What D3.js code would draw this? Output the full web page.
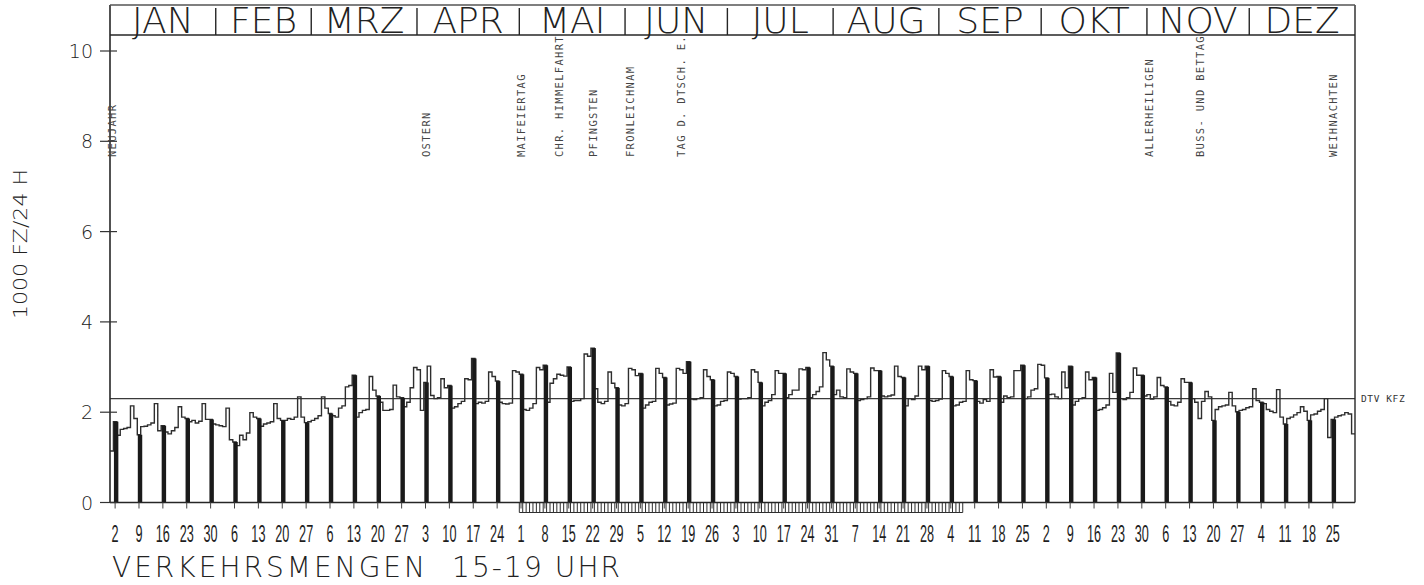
<!DOCTYPE html>
<html><head><meta charset="utf-8">
<script src="https://cdn.jsdelivr.net/npm/d3@7"></script>
<style>
html,body{margin:0;padding:0;background:#fff;}
svg{display:block;}
</style></head>
<body>
<svg id="chart" width="1424" height="585"></svg>
<script>
// ---- DATA (1983, daily values 15-19 h, 1000 vehicles) ----
const year = 1983;
const jan = [1.14,1.79, 1.49,1.62,1.64,1.66,2.14,1.86,1.50, 1.68,1.69,1.72,1.76,2.19,1.59,1.70, 1.56,1.52,1.59,1.66,2.12,1.89,1.86, 1.79,1.82,1.76,1.80,2.19,1.84,1.84, 1.74];
const feb = [1.72,1.70,1.68,2.09,1.39,1.34, 1.26,1.49,1.39,1.54,1.99,1.89,1.86, 1.69,1.74,1.76,1.79,2.19,1.86,1.82, 1.82,1.86,1.84,1.89,2.34,1.89,1.77, 1.79];
const mrz = [1.82,1.86,1.92,2.34,2.09,1.97, 1.92,1.89,2.09,2.14,2.56,2.59,2.82, 1.89,1.99,2.04,2.06,2.79,2.49,2.36, 2.22,2.04,2.04,2.06,2.60,2.34,2.32, 2.12,2.22,2.54,2.99];
const apr = [2.94,2.04,2.66, 3.02,2.37,2.30,2.32,2.74,2.54,2.59, 2.09,2.12,2.19,2.24,2.74,2.72,3.19, 2.19,2.22,2.20,2.24,2.89,2.79,2.69, 2.22,2.19,2.18,2.20,2.92,2.89];
const mai = [2.84, 2.06,2.04,2.09,2.19,2.99,2.94,3.04, 2.22,2.64,2.74,2.84,2.82,2.80,3.00, 2.24,2.26,2.26,2.30,3.29,3.24,3.42, 2.52,2.22,2.19,2.24,2.89,2.64,2.54, 2.16,2.14];
const jun = [2.19,2.97,2.94,2.81,2.86, 2.09,2.16,2.22,2.24,2.97,2.86,2.77, 2.16,2.18,2.20,2.97,2.94,2.86,3.12, 2.29,2.28,2.30,2.32,2.94,2.79,2.72, 2.14,2.16,2.24,2.26];
const jul = [2.89,2.86,2.79, 2.29,2.30,2.30,2.32,2.94,2.89,2.66, 2.14,2.22,2.26,2.39,2.92,2.86,2.86, 2.32,2.39,2.49,2.49,2.96,2.94,2.99, 2.32,2.39,2.46,2.56,3.32,3.16,3.02];
const aug = [2.39,2.49,2.34,2.32,2.96,2.89,2.86, 2.26,2.28,2.30,2.34,2.98,2.92,2.92, 2.36,2.34,2.36,2.38,3.02,2.79,2.77, 2.14,2.30,2.28,2.36,3.02,2.94,3.02, 2.26,2.24,2.26];
const sep = [2.29,2.92,2.86,2.79, 2.14,2.16,2.22,2.24,2.92,2.72,2.70, 2.24,2.20,2.28,2.24,2.94,2.78,2.79, 2.22,2.36,2.32,2.34,2.92,2.92,3.04, 2.30,2.34,2.49,2.52,3.06];
const okt = [3.04,2.76, 2.39,2.40,2.34,2.30,2.89,2.54,3.02, 2.16,2.24,2.30,2.32,2.89,2.72,2.77, 2.04,2.06,2.10,2.16,2.86,2.44,3.31, 2.30,2.28,2.32,2.44,2.98,2.82,2.82, 2.36];
const nov = [2.39,2.29,2.34,2.77,2.59,2.56, 2.24,2.16,2.14,2.22,2.74,2.66,2.66, 2.30,2.22,1.86,2.24,2.46,2.34,1.82, 2.06,2.12,2.14,2.16,2.44,2.14,2.01, 2.04,2.06,2.10];
const dez = [2.12,2.52,2.26,2.22, 2.19,2.06,2.02,1.99,2.50,1.89,1.74, 1.86,1.89,1.94,1.99,2.12,2.02,1.82, 1.94,1.96,2.02,2.06,2.30,1.44,1.84, 1.89,1.92,1.94,1.99,1.96,1.52];

const monthNames = ["JAN","FEB","MRZ","APR","MAI","JUN","JUL","AUG","SEP","OKT","NOV","DEZ"];
const yTicks = [0,2,4,6,8,10];
const dtvValue = 2.30;
const dtvLabel = "DTV KFZ";
const holidayNames = ["NEUJAHR","OSTERN","MAIFEIERTAG","CHR. HIMMELFAHRT","PFINGSTEN","FRONLEICHNAM","TAG D. DTSCH. E.","ALLERHEILIGEN","BUSS- UND BETTAG","WEIHNACHTEN"];
const holidayDates = ["1983-01-01","1983-04-03","1983-05-01","1983-05-12","1983-05-22","1983-06-02","1983-06-17","1983-11-01","1983-11-16","1983-12-25"];
const hatchStart = "1983-05-01", hatchEnd = "1983-09-08";
const yLabel = "1000 FZ/24 H";
const titleLeft = "VERKEHRSMENGEN";
const titleRight = "15-19 UHR";

// ---- BUILD ----
const values = [].concat(jan,feb,mrz,apr,mai,jun,jul,aug,sep,okt,nov,dez);
const start = new Date(year,0,1), end = new Date(year+1,0,1);
const days = d3.timeDay.range(start, end);
const data = days.map((d,i)=>({i, date:d, v:values[i]}));
const parse = d3.timeParse("%Y-%m-%d");
const dayIndex = d => d3.timeDay.count(start, d);

const L = 110, R = 1355, HT = 5, HB = 35;
const x = d3.scaleLinear().domain([0, days.length]).range([L, R]);
const y = d3.scaleLinear().domain([0, 10]).range([502.5, 51]);

const svg = d3.select("#chart");
const ink = "#262626";

// hatched band below the axis
const h0 = dayIndex(parse(hatchStart)), h1 = dayIndex(parse(hatchEnd));
const hg = svg.append("g").attr("stroke", "#2e2e2e").attr("stroke-width", 1);
hg.selectAll("line").data(d3.range(h0, h1 + 1)).join("line")
  .attr("x1", d => x(d)).attr("x2", d => x(d))
  .attr("y1", y(0)).attr("y2", y(0) + 10);
hg.append("line").attr("x1", x(h0)).attr("x2", x(h1)).attr("y1", y(0)+10).attr("y2", y(0)+10);

// DTV line
svg.append("line").attr("x1", L).attr("x2", R)
  .attr("y1", y(dtvValue)).attr("y2", y(dtvValue))
  .attr("stroke", "#3a3a3a").attr("stroke-width", 1.4);
svg.append("text").attr("x", R + 6).attr("y", y(dtvValue) + 3)
  .attr("font-family", "DejaVu Sans Mono").attr("font-size", 9.5)
  .attr("letter-spacing", 0.6).attr("fill", "#333").text(dtvLabel);

// step line over all days
const pts = data.concat([{i: days.length, v: values[values.length-1]}]);
svg.append("path").datum(pts)
  .attr("d", d3.line().x(d => x(d.i)).y(d => y(d.v)).curve(d3.curveStepAfter))
  .attr("fill", "none").attr("stroke", "#2e2e2e").attr("stroke-width", 1.4);

// Sunday bars
const sundays = data.filter(d => d.date.getDay() === 0);
svg.append("g").selectAll("rect").data(sundays).join("rect")
  .attr("x", d => x(d.i + 0.15)).attr("width", d => x(d.i + 1.45) - x(d.i + 0.15))
  .attr("y", d => y(d.v)).attr("height", d => y(0) - y(d.v))
  .attr("fill", "#1a1a1a");

// frame: axes
svg.append("line").attr("x1", L).attr("x2", R).attr("y1", y(0)).attr("y2", y(0)).attr("stroke", ink).attr("stroke-width", 1.6);
svg.append("line").attr("x1", L).attr("x2", L).attr("y1", HT).attr("y2", y(0)).attr("stroke", ink).attr("stroke-width", 1.6);
svg.append("line").attr("x1", R).attr("x2", R).attr("y1", HT).attr("y2", y(0)).attr("stroke", ink).attr("stroke-width", 1.4);

// x ticks and labels at Sundays
svg.append("g").selectAll("line").data(sundays).join("line")
  .attr("x1", d => x(d.i + 0.5)).attr("x2", d => x(d.i + 0.5))
  .attr("y1", y(0)).attr("y2", y(0) + 6).attr("stroke", "#444").attr("stroke-width", 1);
svg.append("g").selectAll("text").data(sundays).join("text")
  .attr("transform", d => `translate(${x(d.i + 0.5)},542) scale(0.55,1)`)
  .attr("text-anchor", "middle").attr("font-family", "Liberation Sans, Arial, sans-serif")
  .attr("font-size", 23).attr("fill", "#1e1e1e")
  .text(d => d.date.getDate());

// y axis ticks and labels
svg.append("g").selectAll("line").data(yTicks).join("line")
  .attr("x1", 100).attr("x2", L + 7).attr("y1", d => y(d)).attr("y2", d => y(d))
  .attr("stroke", "#333").attr("stroke-width", 1.2);
svg.append("g").selectAll("text").data(yTicks).join("text")
  .attr("x", 93).attr("y", d => y(d) + 7).attr("text-anchor", "end")
  .attr("font-family", "DejaVu Sans").attr("font-weight", 200)
  .attr("font-size", 19).attr("fill", "#222").text(d => d);

// y label
svg.append("text").attr("transform", "translate(27,244) rotate(-90)")
  .attr("text-anchor", "middle").attr("font-family", "DejaVu Sans").attr("font-weight", 200)
  .attr("font-size", 20).attr("fill", "#222")
  .attr("textLength", 150).attr("lengthAdjust", "spacingAndGlyphs").text(yLabel);

// header with months
svg.append("line").attr("x1", L).attr("x2", R).attr("y1", HT).attr("y2", HT).attr("stroke", "#555").attr("stroke-width", 1.3);
svg.append("line").attr("x1", L).attr("x2", R).attr("y1", HB).attr("y2", HB).attr("stroke", ink).attr("stroke-width", 1.6);
const months = d3.timeMonth.range(start, end).map((m, k) => ({
  name: monthNames[k], a: dayIndex(m), b: dayIndex(d3.timeMonth.offset(m, 1))
}));
svg.append("g").selectAll("line").data(months.slice(1)).join("line")
  .attr("x1", d => x(d.a)).attr("x2", d => x(d.a)).attr("y1", HT + 3).attr("y2", HB)
  .attr("stroke", ink).attr("stroke-width", 1.4);
svg.append("g").selectAll("text").data(months).join("text")
  .attr("x", d => x((d.a + d.b) / 2)).attr("y", HB - 2).attr("text-anchor", "middle")
  .attr("font-family", "DejaVu Sans").attr("font-weight", 200)
  .attr("font-size", 36).attr("fill", "#222").text(d => d.name);

// holiday labels
const holidays = holidayNames.map((n, k) => ({name: n, i: dayIndex(parse(holidayDates[k]))}));
svg.append("g").selectAll("text").data(holidays).join("text")
  .attr("transform", d => `translate(${x(d.i + 0.5) + 4},157) rotate(-90)`)
  .attr("font-family", "DejaVu Sans Mono").attr("font-size", 10.5)
  .attr("letter-spacing", 1.3).attr("fill", "#444").text(d => d.name);

// title
svg.append("text").attr("x", 112).attr("y", 577)
  .attr("font-family", "DejaVu Sans").attr("font-weight", 200)
  .attr("font-size", 28).attr("fill", "#222")
  .attr("textLength", 313).attr("lengthAdjust", "spacing").text(titleLeft);
svg.append("text").attr("x", 452).attr("y", 577)
  .attr("font-family", "DejaVu Sans").attr("font-weight", 200)
  .attr("font-size", 28).attr("fill", "#222")
  .attr("textLength", 168).attr("lengthAdjust", "spacing").text(titleRight);
</script>
</body></html>
